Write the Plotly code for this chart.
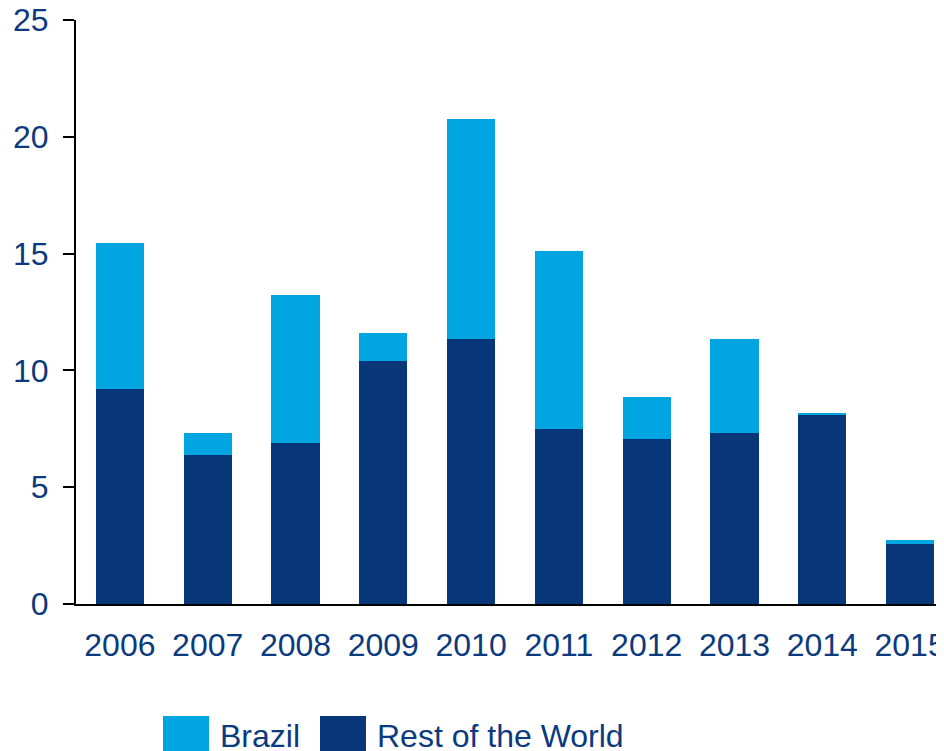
import plotly.graph_objects as go

years = ["2006", "2007", "2008", "2009", "2010", "2011", "2012", "2013", "2014", "2015"]
rest_of_world = [9.2, 6.38, 6.89, 10.4, 11.34, 7.49, 7.06, 7.32, 8.09, 2.57]
brazil = [6.25, 0.94, 6.34, 1.2, 9.42, 7.62, 1.8, 4.02, 0.09, 0.17]
series_names = ["Brazil", "Rest of the World"]
y_ticks = [0, 5, 10, 15, 20, 25]

c_brazil = "#00A5E2"
c_row = "#073679"
c_text = "#0B3A7E"
font_family = "Liberation Sans, Arial, sans-serif"

# page body has an 8px margin, so the figure is drawn offset by (8, 8);
# size it so it fills the 944x751 window exactly without overflow
OFF = 8
W, H = 944 - OFF, 751 - OFF
ml, mr, mt = 76 - OFF, 0, 20 - OFF
plot_bottom = 604 - OFF
mb = H - plot_bottom
pw, ph = W - ml - mr, H - mt - mb

fig = go.Figure()
fig.add_trace(go.Bar(x=years, y=rest_of_world, name=series_names[1],
                     marker=dict(color=c_row, line=dict(width=0)), showlegend=False))
fig.add_trace(go.Bar(x=years, y=brazil, name=series_names[0],
                     marker=dict(color=c_brazil, line=dict(width=0)), showlegend=False))

def px_x(p):
    return (p - OFF - ml) / pw

def px_y(p):
    return (H - mb - (p - OFF)) / ph

shapes = []
annotations = []
legend_items = [(series_names[0], c_brazil, 163, 209, 220),
                (series_names[1], c_row, 320, 366, 377)]
for name, col, x0, x1, tx in legend_items:
    shapes.append(dict(type="rect", xref="paper", yref="paper",
                       x0=px_x(x0), x1=px_x(x1), y0=px_y(716), y1=px_y(760),
                       fillcolor=col, line=dict(width=0), layer="above"))
    annotations.append(dict(text=name, xref="paper", yref="paper",
                            x=px_x(tx - 2), y=px_y(736), xanchor="left", yanchor="middle",
                            showarrow=False, font=dict(size=32, color=c_text, family=font_family)))

fig.update_layout(
    barmode="stack",
    bargap=0.453,
    width=W, height=H,
    margin=dict(l=ml, r=mr, t=mt, b=mb, pad=0, autoexpand=False),
    paper_bgcolor="white", plot_bgcolor="white",
    font=dict(family=font_family, size=32, color=c_text),
    shapes=shapes,
    annotations=annotations,
    xaxis=dict(type="category", range=[-0.5, -0.5 + pw / 87.8],
               automargin=False,
               showline=True, linecolor="black", linewidth=2,
               ticks="", showgrid=False, zeroline=False,
               ticklabeloverflow="allow",
               tickfont=dict(size=32, color=c_text), ticklabelstandoff=12),
    yaxis=dict(range=[0, 25], tickvals=y_ticks,
               automargin=False,
               showline=True, linecolor="black", linewidth=2,
               ticks="outside", ticklen=11, tickwidth=2, tickcolor="black",
               showgrid=False, zeroline=False,
               ticklabeloverflow="allow",
               tickfont=dict(size=32, color=c_text), ticklabelstandoff=8),
)

fig.write_html("out.html", default_width=f"{W}px", default_height=f"{H}px")
